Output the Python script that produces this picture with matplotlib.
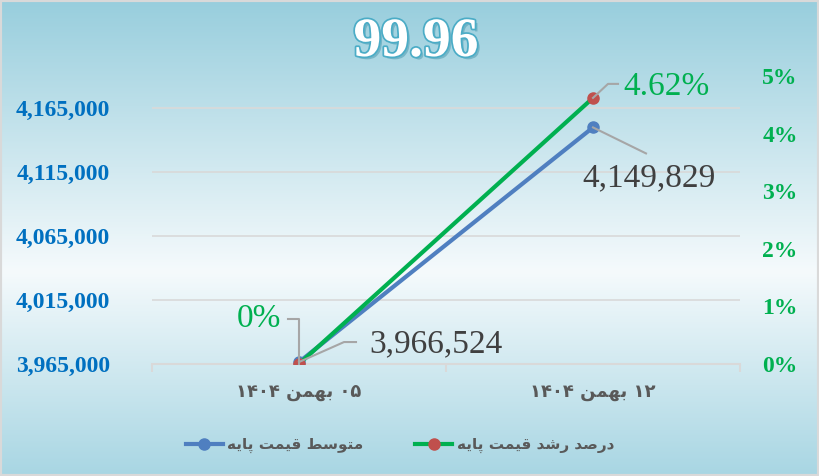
import numpy as np
import matplotlib
matplotlib.use("Agg")
import matplotlib.pyplot as plt
import matplotlib.patheffects as pe
from matplotlib.lines import Line2D
from matplotlib.transforms import IdentityTransform
from matplotlib.colors import LinearSegmentedColormap

# --- данные ---
categories = ["۰۵ بهمن ۱۴۰۴", "۱۲ بهمن ۱۴۰۴"]
avg_price = [3966524, 4149829]
growth_pct = [0.0, 4.62]
price_labels = ["3,966,524", "4,149,829"]
growth_labels = ["0%", "4.62%"]
left_ticks = [3965000, 4015000, 4065000, 4115000, 4165000]
right_ticks = [0, 1, 2, 3, 4, 5]
legend_names = ["متوسط قیمت پایه", "درصد رشد قیمت پایه"]
title_text = "99.96"

# --- простая "ручная" арабская форма букв (matplotlib не умеет shaping) ---
FORMS = {
    "ا": ("\uFE8D", "\uFE8E", None, None),
    "د": ("\uFEA9", "\uFEAA", None, None),
    "ر": ("\uFEAD", "\uFEAE", None, None),
    "و": ("\uFEED", "\uFEEE", None, None),
    "ب": ("\uFE8F", "\uFE90", "\uFE91", "\uFE92"),
    "پ": ("\uFB56", "\uFB57", "\uFB58", "\uFB59"),
    "ت": ("\uFE95", "\uFE96", "\uFE97", "\uFE98"),
    "س": ("\uFEB1", "\uFEB2", "\uFEB3", "\uFEB4"),
    "ش": ("\uFEB5", "\uFEB6", "\uFEB7", "\uFEB8"),
    "ص": ("\uFEB9", "\uFEBA", "\uFEBB", "\uFEBC"),
    "ط": ("\uFEC1", "\uFEC2", "\uFEC3", "\uFEC4"),
    "ق": ("\uFED5", "\uFED6", "\uFED7", "\uFED8"),
    "م": ("\uFEE1", "\uFEE2", "\uFEE3", "\uFEE4"),
    "ن": ("\uFEE5", "\uFEE6", "\uFEE7", "\uFEE8"),
    "ه": ("\uFEE9", "\uFEEA", "\uFEEB", "\uFEEC"),
    "ی": ("\uFBFC", "\uFBFD", "\uFBFE", "\uFBFF"),
}


def shape_word(w):
    out = []
    for i, ch in enumerate(w):
        f = FORMS.get(ch)
        if f is None:
            out.append(ch)
            continue
        prev = FORMS.get(w[i - 1]) if i > 0 else None
        nxt = FORMS.get(w[i + 1]) if i < len(w) - 1 else None
        jp = prev is not None and prev[2] is not None
        jn = nxt is not None and f[2] is not None
        if jp and jn:
            out.append(f[3])
        elif jp:
            out.append(f[1])
        elif jn:
            out.append(f[2])
        else:
            out.append(f[0])
    return "".join(reversed(out))


def fa(text):
    vis = []
    for w in text.split(" "):
        vis.append(shape_word(w) if any(c in FORMS for c in w) else w)
    return " ".join(reversed(vis))


W, H = 819, 476
fig = plt.figure(figsize=(W / 100, H / 100), dpi=100)

# фон: голубой градиент с белой серединой
bg = fig.add_axes([0, 0, 1, 1], zorder=-10)
cmap = LinearSegmentedColormap.from_list(
    "bg", [(0, "#98cedd"), (0.57, "#f5fafc"), (1, "#a8d6e3")])
bg.imshow(np.linspace(0, 1, 256).reshape(-1, 1), aspect="auto", cmap=cmap,
          extent=[0, 1, 0, 1])
bg.plot([0, 0, 1, 1, 0], [0, 1, 1, 0, 0], color="#d9d9d9", lw=3)
bg.set_xlim(0, 1)
bg.set_ylim(0, 1)
bg.axis("off")

serif = "Liberation Serif"
grey = "#d9d9d9"

ax = fig.add_axes([152 / W, 1 - 364 / H, (740 - 152) / W, (364 - 76) / H])
ax.patch.set_alpha(0)
x = np.arange(len(categories))
ax.set_xlim(-0.5, 1.5)
ax.set_ylim(3965000, 4190000)
ax.set_yticks(left_ticks)
ax.set_yticklabels([f"{v:,}" for v in left_ticks], color="#0070c0",
                   fontsize=17, fontweight="bold", family=serif)
ax.tick_params(axis="y", length=0, pad=30)
ax.grid(axis="y", color=grey, lw=1.2)
ax.set_axisbelow(True)
for s in ["left", "right", "top"]:
    ax.spines[s].set_visible(False)
ax.spines["bottom"].set_color(grey)
ax.spines["bottom"].set_linewidth(1.5)
ax.set_xticks(x)
ax.set_xticklabels([fa(c) for c in categories], fontsize=13, fontweight="bold",
                   color="#595959", family="DejaVu Sans")
ax.tick_params(axis="x", length=0, pad=14)
ax.set_xticks([-0.5, 0.5, 1.5], minor=True)
ax.tick_params(axis="x", which="minor", length=6, width=1.5, color=grey)

blue = "#4f7fc0"
green = "#00b050"
red = "#c0504d"
l1, = ax.plot(x, avg_price, color=blue, lw=3, marker="o", ms=8,
              markerfacecolor=blue, markeredgecolor=blue, zorder=3)

ax2 = ax.twinx()
ax2.set_position(ax.get_position())
ax2.set_ylim(0, 5)
ax2.set_yticks(right_ticks)
ax2.set_yticklabels([f"{v}%" for v in right_ticks], color=green, fontsize=17,
                    fontweight="bold", family=serif)
ax2.tick_params(axis="y", length=0, pad=16)
for s in ax2.spines.values():
    s.set_visible(False)
l2, = ax2.plot(x, growth_pct, color=green, lw=3, marker="o", ms=8,
               markerfacecolor=red, markeredgecolor=red, zorder=3)

# подписи данных с выносками (смещения в пикселях: вправо, вниз)
lead = "#a6a6a6"


def label(axis, xi, yi, text, color, dx, dy, path):
    px, py = axis.transData.transform((xi, yi))
    xs = [px + p[0] for p in path]
    ys = [py - p[1] for p in path]
    fig.add_artist(Line2D(xs, ys, transform=IdentityTransform(), color=lead,
                          lw=1.5, zorder=5))
    fig.text((px + dx) / W, (py - dy) / H, text, color=color, fontsize=24,
             family=serif, ha="center", va="center", zorder=6)


label(ax2, x[0], growth_pct[0], growth_labels[0], green, -40, -45,
      [(0, 0), (0, -45), (-11, -45)])
label(ax, x[0], avg_price[0], price_labels[0], "#404040", 137, -18,
      [(0, 0), (45, -20), (57, -20)])
label(ax2, x[1], growth_pct[1], growth_labels[1], green, 74, -11,
      [(0, 0), (15, -14), (25, -14)])
label(ax, x[1], avg_price[1], price_labels[1], "#404040", 56, 51,
      [(0, 0), (53, 26)])

# заголовок: белые буквы с бирюзовым контуром и тенью
fig.text(416 / W, 1 - 42 / H, title_text, fontsize=40, fontweight="bold",
         family=serif, color="white", ha="center", va="center",
         path_effects=[pe.SimplePatchShadow(offset=(2, -2),
                                            shadow_rgbFace="#3a8fa6", alpha=0.45),
                       pe.Stroke(linewidth=2.5, foreground="#4bacc6"), pe.Normal()])

leg = fig.legend([l1, l2], [fa(n) for n in legend_names], loc="center",
                 bbox_to_anchor=(400 / W, 1 - 445 / H), ncol=2, frameon=False,
                 handlelength=2.4, handletextpad=0.3, columnspacing=3.4,
                 prop={"family": "DejaVu Sans", "size": 11, "weight": "bold"})
for t in leg.get_texts():
    t.set_color("#595959")

plt.savefig("out.png", dpi=100)
